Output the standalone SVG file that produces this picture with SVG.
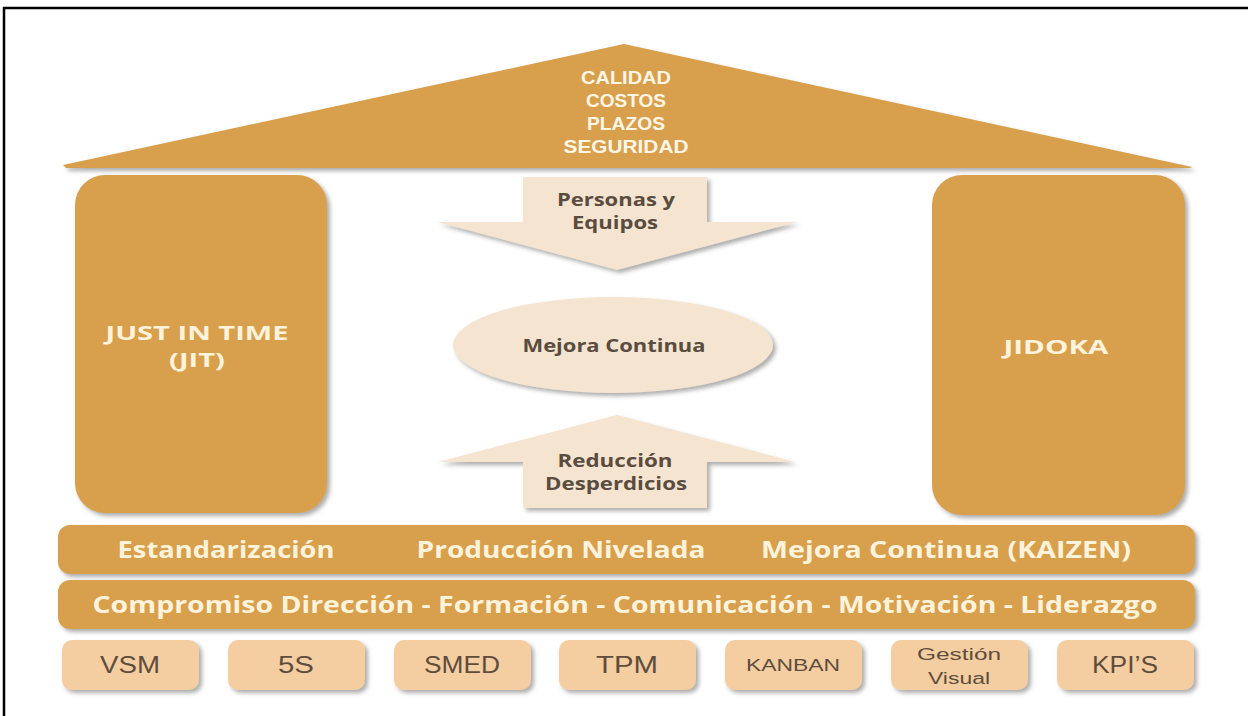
<svg xmlns="http://www.w3.org/2000/svg" width="1248" height="716" viewBox="0 0 1248 716">
<defs>
<filter id="sh" x="-10%" y="-10%" width="120%" height="130%">
<feDropShadow dx="3" dy="3" stdDeviation="2" flood-color="#6b6b6b" flood-opacity="0.55"/>
</filter>
<style>
.gold{fill:#d8a04e;}
.pale{fill:#f5e4d0;}
.peach{fill:#f4cda0;}
.lt{fill:#fff3dc;font-family:"Open Sans","Liberation Sans",sans-serif;font-weight:bold;font-size:20px;text-anchor:middle;}
.roof{fill:#fff6e6;font-family:"Liberation Sans","Open Sans",sans-serif;font-weight:bold;font-size:19px;text-anchor:middle;}
.band{fill:#fff3dc;font-family:"Open Sans","Liberation Sans",sans-serif;font-weight:bold;font-size:23px;text-anchor:middle;}
.dk{fill:#5a4c3f;font-family:"Open Sans","Liberation Sans",sans-serif;font-weight:bold;font-size:17px;text-anchor:middle;}
.bx{fill:#5e4d3d;font-family:"Liberation Sans","Open Sans",sans-serif;font-size:23px;text-anchor:middle;}
.sm{font-size:16px;}
</style>
</defs>
<rect width="1248" height="716" fill="#ffffff"/>
<path d="M4 716 V8 H1248" fill="none" stroke="#000" stroke-width="2.5"/>

<g id="roof">
<polygon class="gold" filter="url(#sh)" points="624,44 63,165 66,168 1190,168 1192,167"/>
<text class="roof" x="626" y="84" textLength="90" lengthAdjust="spacingAndGlyphs">CALIDAD</text>
<text class="roof" x="626" y="107" textLength="80" lengthAdjust="spacingAndGlyphs">COSTOS</text>
<text class="roof" x="626" y="130" textLength="78" lengthAdjust="spacingAndGlyphs">PLAZOS</text>
<text class="roof" x="626" y="153" textLength="125" lengthAdjust="spacingAndGlyphs">SEGURIDAD</text>
</g>

<g id="jit">
<rect class="gold" filter="url(#sh)" x="75" y="175" width="252" height="338" rx="30"/>
<text class="lt" x="197" y="340" textLength="183" lengthAdjust="spacingAndGlyphs">JUST IN TIME</text>
<text class="lt" x="197" y="367" textLength="56" lengthAdjust="spacingAndGlyphs">(JIT)</text>
</g>

<g id="jidoka">
<rect class="gold" filter="url(#sh)" x="932" y="175" width="253" height="340" rx="30"/>
<text class="lt" x="1056" y="354" textLength="105" lengthAdjust="spacingAndGlyphs">JIDOKA</text>
</g>

<g id="connectors">
<g id="personas">
<polygon class="pale" filter="url(#sh)" points="523,177 707,177 707,222 797,222 617,270 437,222 523,222"/>
<text class="dk" x="616" y="206" textLength="118" lengthAdjust="spacingAndGlyphs">Personas y</text>
<text class="dk" x="615" y="229" textLength="86" lengthAdjust="spacingAndGlyphs">Equipos</text>
</g>
<g id="reduccion">
<polygon class="pale" filter="url(#sh)" points="617,415 795,462 707,462 707,508 523,508 523,462 438,462"/>
<text class="dk" x="615" y="467" textLength="115" lengthAdjust="spacingAndGlyphs">Reducción</text>
<text class="dk" x="616" y="490" textLength="142" lengthAdjust="spacingAndGlyphs">Desperdicios</text>
</g>
</g>

<g id="mejora">
<ellipse class="pale" filter="url(#sh)" cx="613" cy="345" rx="160" ry="48"/>
<text class="dk" x="614" y="352" textLength="183" lengthAdjust="spacingAndGlyphs">Mejora Continua</text>
</g>

<g id="band1">
<rect class="gold" filter="url(#sh)" x="58" y="525" width="1137" height="49" rx="12"/>
<text class="band" x="226" y="558" textLength="217" lengthAdjust="spacingAndGlyphs">Estandarización</text>
<text class="band" x="561" y="558" textLength="289" lengthAdjust="spacingAndGlyphs">Producción Nivelada</text>
<text class="band" x="946" y="558" textLength="370" lengthAdjust="spacingAndGlyphs">Mejora Continua (KAIZEN)</text>
</g>

<g id="band2">
<rect class="gold" filter="url(#sh)" x="58" y="580" width="1137" height="49" rx="12"/>
<text class="band" x="625" y="613" textLength="1065" lengthAdjust="spacingAndGlyphs">Compromiso Dirección - Formación - Comunicación - Motivación - Liderazgo</text>
</g>

<g id="vsm"><rect class="peach" filter="url(#sh)" x="62" y="640" width="137" height="50" rx="10"/><text class="bx" x="130" y="673" textLength="60" lengthAdjust="spacingAndGlyphs">VSM</text></g>
<g id="s5"><rect class="peach" filter="url(#sh)" x="228" y="640" width="137" height="50" rx="10"/><text class="bx" x="296" y="673" textLength="36" lengthAdjust="spacingAndGlyphs">5S</text></g>
<g id="smed"><rect class="peach" filter="url(#sh)" x="394" y="640" width="137" height="50" rx="10"/><text class="bx" x="462" y="673" textLength="76" lengthAdjust="spacingAndGlyphs">SMED</text></g>
<g id="tpm"><rect class="peach" filter="url(#sh)" x="559" y="640" width="137" height="50" rx="10"/><text class="bx" x="627" y="673" textLength="62" lengthAdjust="spacingAndGlyphs">TPM</text></g>
<g id="kanban"><rect class="peach" filter="url(#sh)" x="725" y="640" width="137" height="50" rx="10"/><text class="bx sm" x="793" y="671" textLength="94" lengthAdjust="spacingAndGlyphs">KANBAN</text></g>
<g id="gestion"><rect class="peach" filter="url(#sh)" x="891" y="640" width="137" height="50" rx="10"/><text class="bx sm" x="959" y="660" textLength="84" lengthAdjust="spacingAndGlyphs">Gestión</text><text class="bx sm" x="959" y="684" textLength="62" lengthAdjust="spacingAndGlyphs">Visual</text></g>
<g id="kpis"><rect class="peach" filter="url(#sh)" x="1057" y="640" width="137" height="50" rx="10"/><text class="bx" x="1125" y="673" textLength="66" lengthAdjust="spacingAndGlyphs">KPI’S</text></g>
</svg>
